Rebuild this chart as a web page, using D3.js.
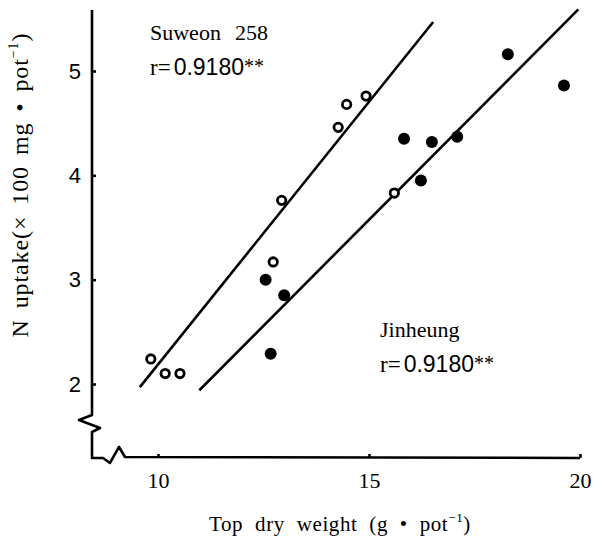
<!DOCTYPE html>
<html>
<head>
<meta charset="utf-8">
<script src="https://cdn.jsdelivr.net/npm/d3@7"></script>
<style>
  html, body { margin: 0; padding: 0; background: #fff; }
  svg { display: block; }
  .serif { font-family: "Liberation Serif", "DejaVu Serif", serif; }
  .sans { font-family: "Liberation Sans", Arial, sans-serif; }
</style>
</head>
<body>
<svg id="chart" width="594" height="539"></svg>
<script>
// ---- data ----
const xTicks = [10, 15, 20];
const yTicks = [2, 3, 4, 5];

// Suweon 258 (open circles)
const suweonX = [9.83, 10.17, 10.52, 12.73, 12.93, 14.27, 14.47, 14.93, 15.60];
const suweonY = [2.24, 2.10, 2.10, 3.17, 3.76, 4.46, 4.68, 4.76, 3.83];
// Jinheung (filled circles)
const jinheungX = [12.55, 12.99, 12.67, 15.83, 16.49, 17.09, 16.23, 18.29, 19.62];
const jinheungY = [3.00, 2.85, 2.29, 4.35, 4.32, 4.37, 3.95, 5.16, 4.86];

// regression line end points
const suweonLineX = [9.57, 16.52];
const suweonLineY = [1.97, 5.47];
const jinheungLineX = [10.98, 19.96];
const jinheungLineY = [1.94, 5.59];

const xTitle = "Top dry weight (g • pot";
const yTitle = "N uptake(× 100 mg • pot";

// ---- layout ----
const svg = d3.select("#chart");
const x = d3.scaleLinear().domain([10, 20]).range([158, 580]);
const y = d3.scaleLinear().domain([2, 5]).range([384, 71]);
const axisLeftX = x(8.436);   // y-axis position
const axisBottomY = y(1.291); // x-axis position
const axisTopY = y(5.585);

const ink = "#000";

// axes with breaks
const L = axisLeftX, B = axisBottomY, R = x(20);
const axisPath = d3.path();
axisPath.moveTo(L, axisTopY);
axisPath.lineTo(L, B - 43);
axisPath.lineTo(L - 13, B - 38);
axisPath.lineTo(L + 8, B - 30);
axisPath.lineTo(L, B - 26);
axisPath.lineTo(L, B);
axisPath.lineTo(L + 11, B);
axisPath.lineTo(L + 18, B + 5);
axisPath.lineTo(L + 27, B - 11);
axisPath.lineTo(L + 33, B - 1);
axisPath.lineTo(R, B);
svg.append("path")
  .attr("d", axisPath.toString())
  .attr("fill", "none")
  .attr("stroke", ink)
  .attr("stroke-width", 2.6)
  .attr("stroke-linejoin", "round");

// y axis ticks
const gy = svg.append("g")
  .attr("transform", `translate(${L},0)`)
  .call(d3.axisLeft(y).tickValues(yTicks).tickSizeInner(-4).tickSizeOuter(0).tickPadding(11).tickFormat(d3.format("d")));
gy.select(".domain").remove();
gy.selectAll(".tick line").attr("stroke", ink).attr("stroke-width", 2.6);
gy.selectAll(".tick text")
  .attr("class", "sans")
  .attr("font-size", 22)
  .attr("fill", ink);

// x axis ticks
const gx = svg.append("g")
  .attr("transform", `translate(0,${B})`)
  .call(d3.axisBottom(x).tickValues(xTicks).tickSizeInner(-4).tickSizeOuter(0).tickPadding(14).tickFormat(d3.format("d")));
gx.select(".domain").remove();
gx.selectAll(".tick line").attr("stroke", ink).attr("stroke-width", 2.6);
gx.selectAll(".tick text")
  .attr("class", "serif")
  .attr("font-size", 22)
  .attr("fill", ink);

// regression lines
const lineGen = d3.line().x(d => x(d[0])).y(d => y(d[1]));
svg.append("path")
  .attr("d", lineGen(suweonLineX.map((v, i) => [v, suweonLineY[i]])))
  .attr("fill", "none").attr("stroke", ink).attr("stroke-width", 2.6);
svg.append("path")
  .attr("d", lineGen(jinheungLineX.map((v, i) => [v, jinheungLineY[i]])))
  .attr("fill", "none").attr("stroke", ink).attr("stroke-width", 2.6);

// points
svg.append("g").selectAll("circle")
  .data(suweonX.map((v, i) => [v, suweonY[i]]))
  .join("circle")
  .attr("cx", d => x(d[0])).attr("cy", d => y(d[1]))
  .attr("r", 4.2)
  .attr("fill", "#fff").attr("stroke", ink).attr("stroke-width", 2.8);

svg.append("g").selectAll("circle")
  .data(jinheungX.map((v, i) => [v, jinheungY[i]]))
  .join("circle")
  .attr("cx", d => x(d[0])).attr("cy", d => y(d[1]))
  .attr("r", 6)
  .attr("fill", ink);

// annotations
function annot(xp, yp1, yp2, name, num) {
  const t1 = svg.append("text").attr("class", "serif").attr("x", xp).attr("y", yp1)
    .attr("font-size", 22).attr("fill", ink);
  t1.append("tspan").text(name);
  if (num) t1.append("tspan").attr("dx", 14).text(num);
  const t2 = svg.append("text").attr("x", xp).attr("y", yp2).attr("fill", ink);
  t2.append("tspan").attr("class", "serif").attr("font-size", 23).text("r=");
  t2.append("tspan").attr("class", "sans").attr("font-size", 23).attr("dx", 3).text("0.9180");
  t2.append("tspan").attr("class", "serif").attr("font-size", 20).attr("dy", -2).text("**");
}
annot(150, 40, 75, "Suweon", "258");
annot(380, 337, 372, "Jinheung", null);

// axis titles
const xt = svg.append("text").attr("class", "serif")
  .attr("x", 340).attr("y", 531).attr("text-anchor", "middle")
  .attr("font-size", 21).attr("fill", ink)
  .style("word-spacing", "6px").style("letter-spacing", "0.6px");
xt.append("tspan").text(xTitle);
xt.append("tspan").attr("font-size", 13).attr("dy", -9).text("−1");
xt.append("tspan").attr("dy", 9).text(")");

const yt = svg.append("text").attr("class", "serif")
  .attr("transform", `translate(28,${185}) rotate(-90)`)
  .attr("text-anchor", "middle")
  .attr("font-size", 24).attr("fill", ink)
  .style("word-spacing", "4px").style("letter-spacing", "0.9px");
yt.append("tspan").text(yTitle);
yt.append("tspan").attr("font-size", 14).attr("dy", -10).text("−1");
yt.append("tspan").attr("dy", 10).text(")");
</script>
</body>
</html>
